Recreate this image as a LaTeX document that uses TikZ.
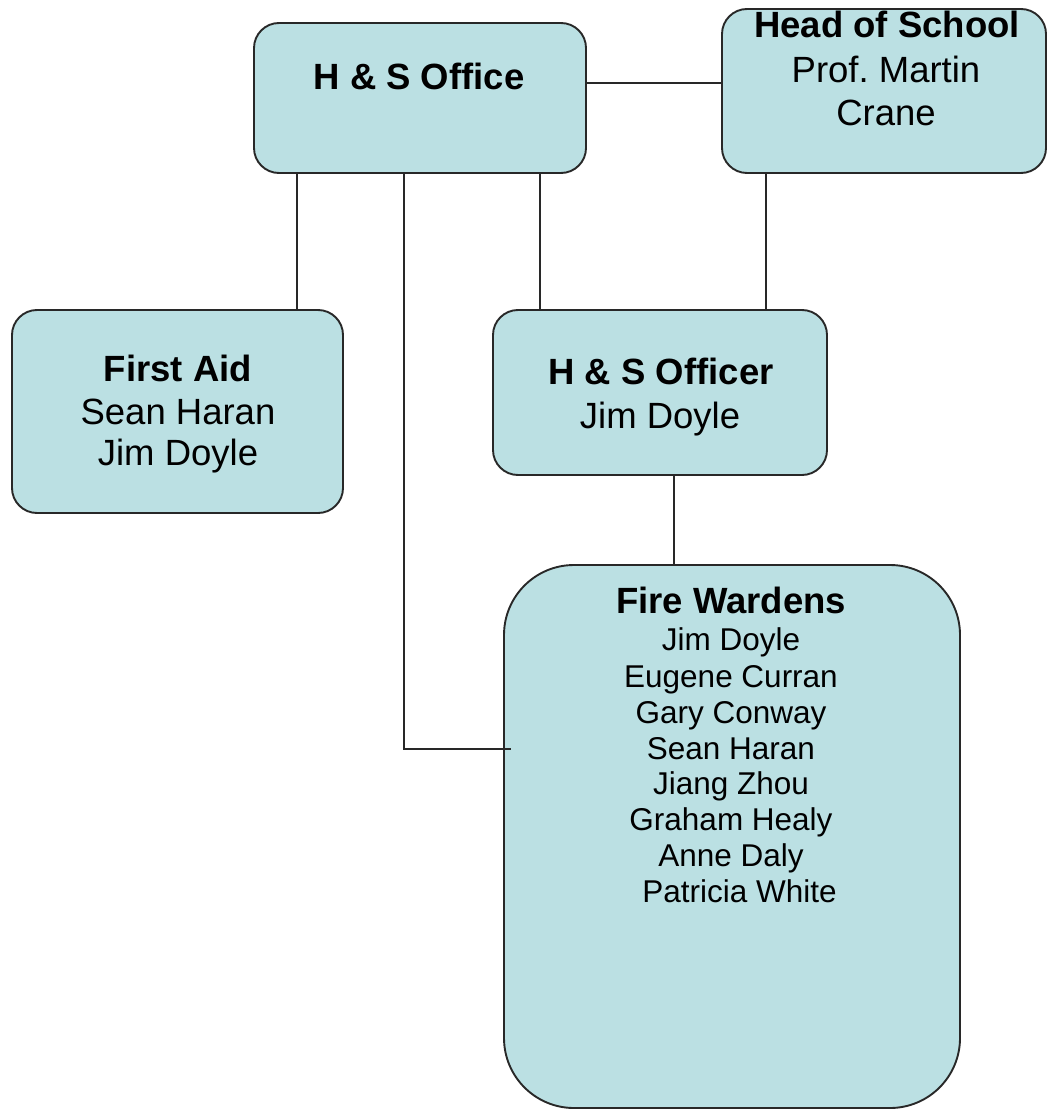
\documentclass[tikz,border=0pt]{standalone}
\usepackage{fontspec}
\setmainfont{Liberation Sans}
\frenchspacing
\definecolor{boxfill}{RGB}{187,224,227}
\definecolor{boxline}{RGB}{40,40,40}
\begin{document}
\begin{tikzpicture}[x=1pt,y=-1pt,
  box/.style={draw=boxline,fill=boxfill,line width=1.9pt,rounded corners=25pt,inner sep=0pt,minimum width=#1},
  box/.default=100pt,
  conn/.style={draw=boxline,line width=1.9pt},
  ttl/.style={anchor=base,inner sep=0pt,font=\fontsize{36.5}{44}\selectfont\bfseries},
  nm/.style={anchor=base,inner sep=0pt,font=\fontsize{36.5}{44}\selectfont},
  fwnm/.style={anchor=base,inner sep=0pt,font=\fontsize{31.5}{38}\selectfont}]
\useasboundingbox (0,0) rectangle (1047,1110);
% boxes
\node[box=332pt,minimum height=150pt] (office) at (420,98) {};
\node[box=324pt,minimum height=164pt] (head) at (884,91) {};
\node[box=331pt,minimum height=203pt] (firstaid) at (177.5,411.5) {};
\node[box=334pt,minimum height=165pt] (officer) at (660,392.5) {};
\node[box=456pt,minimum height=543pt,rounded corners=70pt] (fw) at (732,836.5) {};
% connectors
\draw[conn] (office.east |- 0,83) -- (head.west |- 0,83);
\draw[conn] ([xshift=-123pt]office.south) -- ([xshift=-123pt]office.south |- firstaid.north);
\draw[conn] ([xshift=120pt]office.south) -- ([xshift=120pt]office.south |- officer.north);
\draw[conn] ([xshift=-118pt]head.south) -- ([xshift=-118pt]head.south |- officer.north);
\draw[conn] ([xshift=14pt]officer.south) -- ([xshift=14pt]officer.south |- fw.north);
\coordinate (fwin) at (511,749);
\draw[conn] ([xshift=-16pt]office.south) |- (fwin);
% texts
\node[ttl] (t-office) at (419,90) {H \& S Office};
\node[ttl] (t-head) at (887,38) {Head of School};
\node[nm] (t-head2) at (886,83) {Prof. Martin};
\node[nm] (t-head3) at (886,126) {Crane};
\node[ttl] (t-fa) at (178,381) {First Aid};
\node[nm] (t-fa2) at (178,424) {Sean Haran};
\node[nm] (t-fa3) at (178,465) {Jim Doyle};
\node[ttl] (t-off) at (661,384) {H \& S Officer};
\node[nm] (t-off2) at (660,428) {Jim Doyle};
\node[ttl] (t-fw) at (731,613) {Fire Wardens};
\node[fwnm] (fw1) at (731,650) {Jim Doyle};
\node[fwnm] (fw2) at (731,687) {Eugene Curran};
\node[fwnm] (fw3) at (731,723) {Gary Conway};
\node[fwnm] (fw4) at (731,759) {Sean Haran};
\node[fwnm] (fw5) at (731,794) {Jiang Zhou};
\node[fwnm] (fw6) at (731,830) {Graham Healy};
\node[fwnm] (fw7) at (731,866) {Anne Daly};
\node[fwnm] (fw8) at (739.5,902) {Patricia White};
\end{tikzpicture}
\end{document}
